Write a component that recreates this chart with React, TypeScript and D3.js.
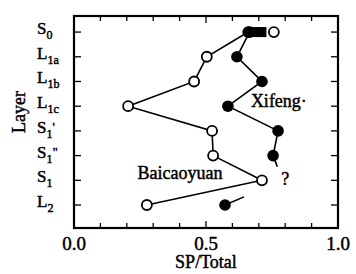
import { scaleLinear, line as d3Line } from "d3";

// layer labels: base letter, subscript, prime mark
const layerBase = ["S", "L", "L", "L", "S", "S", "S", "L"];
const layerSub = ["0", "1a", "1b", "1c", "1", "1", "1", "2"];
const layerMark = ["", "", "", "", "'", "\"", "", ""];

// SP/Total per layer
const baicaoyuan = [0.66, 0.503, 0.455, 0.205, 0.523, 0.527, 0.712, 0.276];
const baicaoyuanExtraS0 = 0.757;
const xifeng: (number | null)[] = [0.665, 0.617, 0.712, 0.583, 0.773, 0.754, null, 0.572];
const xifengSquaresS0 = [0.69, 0.71];
// where the missing S1 point would sit, and how far the stubs reach toward it
const xifengGuessS1 = 0.79;
const stubFromAbove = 0.45;
const stubFromBelow = 0.33;

const xTicks = [0, 0.1, 0.2, 0.3, 0.4, 0.5, 0.6, 0.7, 0.8, 0.9, 1.0];
const xTickLabels = [0, 0.5, 1.0];

const W = 356;
const H = 274;
const left = 74;
const right = 338;
const top = 16;
const bottom = 228;
const font = "'Liberation Serif', 'Times New Roman', serif";
// scanned look: slightly heavier glyphs
const ink = { fill: "#000", stroke: "#000", strokeWidth: 0.45 };

export default function App() {
  const x = scaleLinear().domain([0, 1]).range([left, right]);
  const y = scaleLinear().domain([-0.65, 7.93]).range([top, bottom]);

  const line = d3Line<[number, number]>()
    .x((d) => x(d[0]))
    .y((d) => y(d[1]));

  const bPts: [number, number][] = baicaoyuan.map((v, i) => [v, i]);

  // xifeng split into segments around the missing value
  const segs: [number, number][][] = [];
  let cur: [number, number][] = [];
  xifeng.forEach((v, i) => {
    if (v == null) {
      if (cur.length) segs.push(cur);
      cur = [];
    } else cur.push([v, i]);
  });
  if (cur.length) segs.push(cur);

  const gapIdx = xifeng.indexOf(null);
  const prev = xifeng[gapIdx - 1] as number;
  const next = xifeng[gapIdx + 1] as number;
  const stubA: [number, number][] = [
    [prev, gapIdx - 1],
    [prev + (xifengGuessS1 - prev) * stubFromAbove, gapIdx - 1 + stubFromAbove],
  ];
  const stubB: [number, number][] = [
    [next, gapIdx + 1],
    [next + (xifengGuessS1 - next) * stubFromBelow, gapIdx + 1 - stubFromBelow],
  ];

  return (
    <svg width={W} height={H} style={{ position: "absolute", left: 0, top: 0, background: "#fff" }}>
      {/* ticks */}
      {xTicks.map((t) => (
        <g key={"xt" + t} stroke="#000" strokeWidth={1.3}>
          <line x1={x(t)} x2={x(t)} y1={bottom} y2={bottom - (t === 0.5 ? 7 : 5)} />
          <line x1={x(t)} x2={x(t)} y1={top} y2={top + (t === 0.5 ? 7 : 5)} />
        </g>
      ))}
      {layerBase.map((_, i) => (
        <g key={"yt" + i} stroke="#000" strokeWidth={1.3}>
          <line x1={left} x2={left + 7} y1={y(i)} y2={y(i)} />
          <line x1={right} x2={right - 7} y1={y(i)} y2={y(i)} />
        </g>
      ))}
      <rect x={left} y={top} width={right - left} height={bottom - top} fill="none" stroke="#000" strokeWidth={2.2} />

      {/* series lines */}
      <path d={line(bPts)!} fill="none" stroke="#000" strokeWidth={1.6} />
      {segs.map((s, i) => (
        <path key={"xs" + i} d={line(s)!} fill="none" stroke="#000" strokeWidth={1.6} />
      ))}
      <path d={line(stubA)!} fill="none" stroke="#000" strokeWidth={1.6} />
      <path d={line(stubB)!} fill="none" stroke="#000" strokeWidth={1.6} />

      {/* markers */}
      {bPts.map(([v, i]) => (
        <circle key={"bc" + i} cx={x(v)} cy={y(i)} r={5} fill="#fff" stroke="#000" strokeWidth={1.8} />
      ))}
      <circle cx={x(baicaoyuanExtraS0)} cy={y(0)} r={5} fill="#fff" stroke="#000" strokeWidth={1.8} />
      {segs.flat().map(([v, i]) => (
        <circle key={"xc" + i} cx={x(v)} cy={y(i)} r={5.8} fill="#000" />
      ))}
      {xifengSquaresS0.map((v) => (
        <rect key={"sq" + v} x={x(v) - 5} y={y(0) - 5} width={10} height={10} fill="#000" />
      ))}

      {/* annotations */}
      <text x={x(0.5)} y={y(3)} dx={-26} dy={73} fontFamily={font} fontSize={18} textAnchor="middle" {...ink}>
        Baicaoyuan
      </text>
      <text x={x(0.67)} y={y(3)} dy={1} fontFamily={font} fontSize={18} {...ink}>
        Xifeng·
      </text>
      <text x={x(0.8)} y={y(6)} dy={5} fontFamily={font} fontSize={18} textAnchor="middle" {...ink}>
        ?
      </text>

      {/* y labels */}
      {layerBase.map((b, i) => (
        <text key={"yl" + i} x={37} y={y(i) + 2} fontFamily={font} fontSize={17} {...ink}>
          {b}
          <tspan fontSize={12} dy={5}>
            {layerSub[i]}
          </tspan>
          {layerMark[i] && (
            <tspan fontSize={13} dy={-7}>
              {layerMark[i]}
            </tspan>
          )}
        </text>
      ))}
      <text
        transform={`translate(${25},${(top + bottom) / 2 - 10}) rotate(-90)`}
        fontFamily={font}
        fontSize={18}
        textAnchor="middle"
        {...ink}
      >
        Layer
      </text>

      {/* x labels */}
      {xTickLabels.map((t) => (
        <text key={"xl" + t} x={x(t)} y={bottom + 22} fontFamily={font} fontSize={19} textAnchor="middle" {...ink}>
          {t.toFixed(1)}
        </text>
      ))}
      <text x={x(0.5)} y={bottom + 40} fontFamily={font} fontSize={18} textAnchor="middle" {...ink}>
        SP/Total
      </text>
    </svg>
  );
}
